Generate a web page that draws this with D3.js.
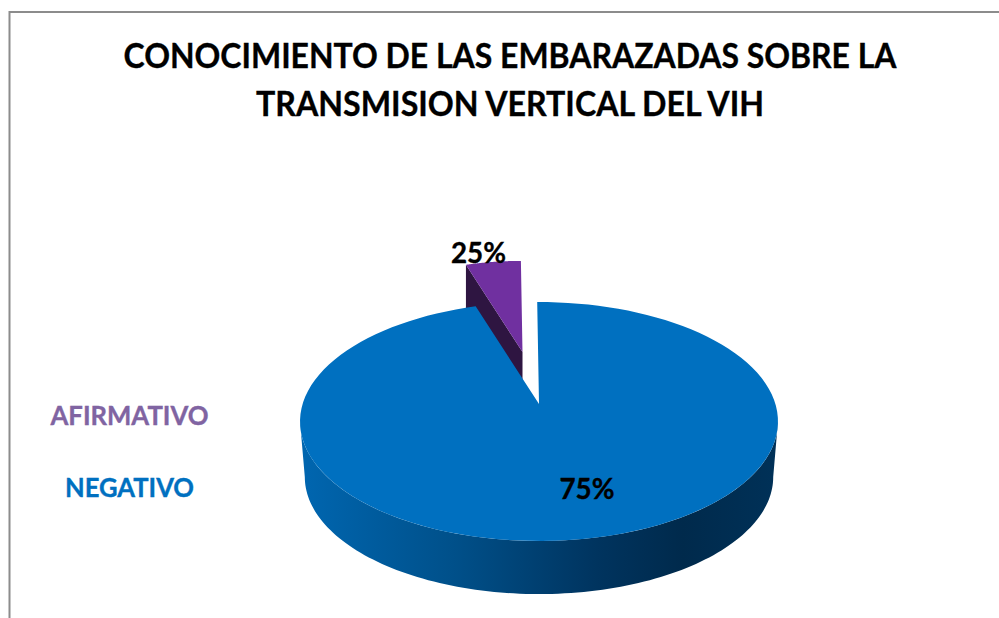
<!DOCTYPE html>
<html>
<head>
<meta charset="utf-8">
<script src="https://cdn.jsdelivr.net/npm/d3@7/dist/d3.min.js"></script>
<style>
  html, body { margin: 0; background: #fff; }
  text { font-family: Lato, Carlito, sans-serif; font-weight: 700; stroke-width: 0.35; }
</style>
</head>
<body>
<script>
const titleLines = ['CONOCIMIENTO DE LAS EMBARAZADAS SOBRE LA', 'TRANSMISION VERTICAL DEL VIH'];
const categories = ['AFIRMATIVO', 'NEGATIVO'];
// printed labels say 25/75, but the drawn slices are much closer to 5/95
const sliceLabels = ['25%', '75%'];
const sliceShares = [4.8, 95.2];
const legendColors = ['#8064a2', '#0070c0'];
const topColors = ['#7030a0', '#0070c0'];
const cutColor = '#2e1541';
const sideStops = [
    {at: 0, color: '#0066b0'},
    {at: 0.32, color: '#00508a'},
    {at: 0.62, color: '#00345f'},
    {at: 0.8, color: '#002a4c'},
    {at: 1, color: '#003158'}
];

const width = 999, height = 618;
const svg = d3.select('body').append('svg')
    .attr('width', width)
    .attr('height', height)
    .style('display', 'block');

// frame, cut off by the right and bottom of the picture
svg.append('path')
    .attr('d', d3.line()([[9.5, height], [9.5, 12], [width, 12]]))
    .attr('fill', 'none')
    .attr('stroke', '#8c8c8c')
    .attr('stroke-width', 2);

// textLength squeezes the glyphs a bit, the original font is narrower than Lato
const titleWidths = [773, 508];
svg.selectAll('.title')
    .data(titleLines)
    .enter()
    .append('text')
    .attr('class', 'title')
    .attr('x', 510)
    .attr('y', (d, i) => 68 + i * 48)
    .attr('text-anchor', 'middle')
    .attr('font-size', 34)
    .attr('textLength', (d, i) => titleWidths[i])
    .attr('lengthAdjust', 'spacingAndGlyphs')
    .attr('fill', '#000')
    .attr('stroke', '#000')
    .text(d => d);

// the pie is tilted: a unit disc seen in perspective, so its centre sits above the ellipse's
const tilt = 0.1465;
const xScale = d3.scaleLinear().domain([0, 1]).range([539, 539 + 236.4]);
const yScale = d3.scaleLinear().domain([0, 1]).range([404, 404 - 116.9]);
function project(angle, radius) {
    const u = radius * Math.sin(angle), v = radius * Math.cos(angle);
    const w = 1 + tilt * v;
    return [xScale(u / w), yScale(v / w)];
}
function dropToBase(p) {
    return [539.5 + (p[0] - 539.5) * 0.98, 421 + (p[1] - 421) * 0.98 + 55.5];
}

const pieStart = -2 * Math.PI * sliceShares[0] / 100 - 0.0087;
const pie = d3.pie().sort(null).value(d => d)
    .startAngle(pieStart)
    .endAngle(pieStart + 2 * Math.PI);
const slices = pie(sliceShares);

function rimPoints(start, end, radius) {
    return d3.range(0, 121).map(i => project(start + (end - start) * i / 120, radius));
}

// exploded small slice, drawn first since the big one overlaps it
const smallRadius = 0.88, explodeX = -16.5, explodeY = -52;
const shift = p => [p[0] + explodeX, p[1] + explodeY];
const smallRim = rimPoints(slices[0].startAngle, slices[0].endAngle, smallRadius).map(shift);
const smallApex = shift(project(0, 0));
const cutDepth = 45;
const down = p => [p[0], p[1] + cutDepth];

svg.append('path')
    .attr('d', d3.line()([smallApex, smallRim[0], down(smallRim[0]), down(smallApex)]) + 'Z')
    .attr('fill', cutColor);
svg.append('path')
    .attr('d', d3.line()([smallApex, ...smallRim]) + 'Z')
    .attr('fill', topColors[0]);

// rim of the big slice
const gradient = svg.append('defs').append('linearGradient')
    .attr('id', 'side')
    .attr('gradientUnits', 'userSpaceOnUse')
    .attr('x1', 301).attr('x2', 778).attr('y1', 0).attr('y2', 0);
gradient.selectAll('stop')
    .data(sideStops)
    .enter()
    .append('stop')
    .attr('offset', d => d.at)
    .attr('stop-color', d => d.color);

const sideFrom = Math.acos(-tilt), sideTo = 2 * Math.PI - sideFrom;
const sideTop = rimPoints(sideFrom, sideTo, 1);
svg.append('path')
    .attr('d', d3.line()([...sideTop, ...sideTop.map(dropToBase).reverse()]) + 'Z')
    .attr('fill', 'url(#side)');

svg.append('path')
    .attr('d', d3.line()([project(0, 0), ...rimPoints(slices[1].startAngle, slices[1].endAngle, 1)]) + 'Z')
    .attr('fill', topColors[1]);

// value labels
const labelPos = [[478.5, 263], [587, 499]];
svg.selectAll('.value')
    .data(sliceLabels)
    .enter()
    .append('text')
    .attr('class', 'value')
    .attr('x', (d, i) => labelPos[i][0])
    .attr('y', (d, i) => labelPos[i][1])
    .attr('text-anchor', 'middle')
    .attr('font-size', 29)
    .attr('textLength', 55)
    .attr('lengthAdjust', 'spacingAndGlyphs')
    .attr('fill', '#000')
    .attr('stroke', '#000')
    .text(d => d);

// legend, no swatches in the original, only coloured text
const legendWidths = [158, 129];
const legendY = d3.scalePoint().domain(categories).range([425, 497]);
svg.selectAll('.legend')
    .data(categories)
    .enter()
    .append('text')
    .attr('class', 'legend')
    .attr('x', 129.5)
    .attr('y', d => legendY(d))
    .attr('text-anchor', 'middle')
    .attr('font-size', 26)
    .attr('textLength', (d, i) => legendWidths[i])
    .attr('lengthAdjust', 'spacingAndGlyphs')
    .attr('fill', (d, i) => legendColors[i])
    .attr('stroke', (d, i) => legendColors[i])
    .text(d => d);
</script>
</body>
</html>
